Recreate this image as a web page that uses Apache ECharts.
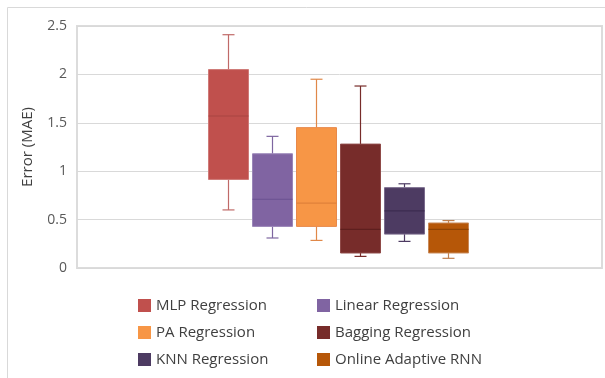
<!DOCTYPE html>
<html><head><meta charset="utf-8">
<script src="https://cdn.jsdelivr.net/npm/echarts@6/dist/echarts.min.js"></script>
<style>html,body{margin:0;padding:0;background:#fff}#c{width:605px;height:378px}</style>
</head><body><div id="c"></div>
<script>
// Data: [min, Q1, median, Q3, max]
const seriesNames = ['MLP Regression','Linear Regression','PA Regression','Bagging Regression','KNN Regression','Online Adaptive RNN'];
const mlp     = [0.60, 0.915, 1.57, 2.05, 2.41];
const linear  = [0.31, 0.43, 0.71, 1.18, 1.36];
const pa      = [0.285, 0.43, 0.67, 1.45, 1.95];
const bagging = [0.12, 0.155, 0.40, 1.28, 1.88];
const knn     = [0.275, 0.35, 0.59, 0.83, 0.87];
const rnn     = [0.10, 0.155, 0.40, 0.465, 0.49];
const yTicks = [0, 0.5, 1, 1.5, 2, 2.5];
const yAxisTitle = 'Error (MAE)';

const allData = [mlp, linear, pa, bagging, knn, rnn];
const colors  = ['#C0504D','#8064A2','#F79646','#772C2A','#4D3B62','#B65708'];
const strokes = ['#cf7a78','#9a86b8','#e8894a','#8f4a48','#7a6a8c','#c98a5a'];
const medians = ['#a84442','#6a5190','#e0803a','#5e1f1e','#3d2d50','#8f4304'];
const whisk   = ['#c06a68','#7e66a0','#e08848','#772C2A','#4D3B62','#c08050'];
const FONT = '"Open Sans", "Liberation Sans", sans-serif';
const SPACING = 44, BOX_W = 40, CAP_W = 12;

function makeRender(idx){
  return function(params, api){
    const base = api.coord([api.value(0), 0]);
    const xc = base[0] + (idx - 2.5) * SPACING - 1;
    const y = k => api.coord([0, api.value(k)])[1];
    const yMin = y(1), yQ1 = y(2), yMed = y(3), yQ3 = y(4), yMax = y(5);
    const h = BOX_W / 2, c = CAP_W / 2;
    const ls = {stroke: whisk[idx], lineWidth: 1.2};
    return {type:'group', children:[
      {type:'line', shape:{x1:xc,y1:yMax,x2:xc,y2:yQ3}, style:ls},
      {type:'line', shape:{x1:xc,y1:yQ1,x2:xc,y2:yMin}, style:ls},
      {type:'line', shape:{x1:xc-c,y1:yMax,x2:xc+c,y2:yMax}, style:ls},
      {type:'line', shape:{x1:xc-c,y1:yMin,x2:xc+c,y2:yMin}, style:ls},
      {type:'rect', shape:{x:xc-h,y:yQ3,width:BOX_W,height:yQ1-yQ3}, style:{fill:colors[idx], stroke:strokes[idx], lineWidth:1}},
      {type:'line', shape:{x1:xc-h,y1:yMed,x2:xc+h,y2:yMed}, style:{stroke:medians[idx], lineWidth:1.2}}
    ]};
  };
}

const series = seriesNames.map((name, i) => ({
  name, type:'custom', renderItem: makeRender(i),
  itemStyle:{color: colors[i]},
  encode:{x:0, y:[1,2,3,4,5]},
  data:[[0].concat(allData[i])]
}));

const legendText = {color:'#404040', fontSize:15, fontFamily:FONT};
const chart = echarts.init(document.getElementById('c'));
chart.setOption({
  animation:false,
  graphic:[{type:'rect', shape:{x:7.5,y:7.5,width:700,height:500}, style:{fill:'none', stroke:'#d9d9d9', lineWidth:1}, silent:true}],
  legend:[
    {data:[seriesNames[0],seriesNames[2],seriesNames[4]], orient:'vertical', left:138, top:298, padding:0, itemWidth:13, itemHeight:13, itemGap:12, icon:'rect', textStyle:legendText, selectedMode:false},
    {data:[seriesNames[1],seriesNames[3],seriesNames[5]], orient:'vertical', left:317, top:298, padding:0, itemWidth:13, itemHeight:13, itemGap:12, icon:'rect', textStyle:legendText, selectedMode:false}
  ],
  grid:{left:77, right:3, top:26, bottom:110, show:true, borderColor:'#dcdcdc', borderWidth:2, backgroundColor:'transparent'},
  xAxis:{type:'category', data:[''], axisLine:{show:false}, axisTick:{show:false}, axisLabel:{show:false}},
  yAxis:{type:'value', min:yTicks[0], max:yTicks[yTicks.length-1], interval:0.5,
    name:yAxisTitle, nameLocation:'middle', nameGap:42, nameTextStyle:{color:'#404040', fontSize:15, fontFamily:FONT},
    axisLine:{show:false}, axisTick:{show:false},
    axisLabel:{color:'#595959', fontSize:14, fontFamily:FONT, margin:10},
    splitLine:{lineStyle:{color:'#d9d9d9', width:1}}},
  series
});
</script></body></html>
